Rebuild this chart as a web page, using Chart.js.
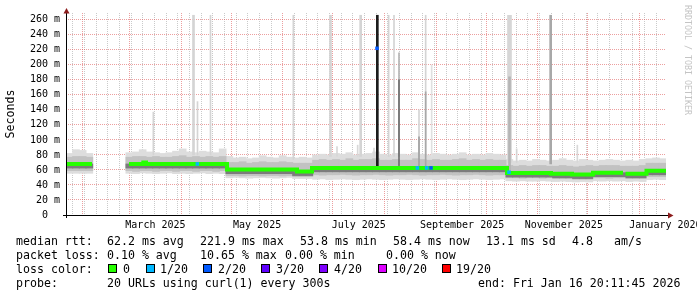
<!DOCTYPE html>
<html>
<head>
<meta charset="utf-8">
<title>median rtt - last 360 days</title>
<script src="https://cdn.jsdelivr.net/npm/chart.js@4.4.1/dist/chart.umd.min.js"></script>
<style>
  html, body { margin: 0; padding: 0; background: #fff; }
  #wrap { position: relative; width: 697px; height: 297px; overflow: hidden; font-family: 'DejaVu Sans Mono', monospace; }
  #chart { position: absolute; left: 0; top: 0; }
  .lg { position: absolute; font-size: 11.6px; line-height: 14px; white-space: pre; color: #000; }
  .box { position: absolute; top: 264px; width: 7px; height: 7px; border: 1px solid #000; }
  #credit { position: absolute; left: 683px; top: 5px; writing-mode: vertical-rl; font-size: 8.3px; line-height: 9px; color: #c4c4c4; }
</style>
</head>
<body>
<div id="wrap">
  <canvas id="chart" width="697" height="297"></canvas>

  <div class="lg" style="left:16px;top:234px">median rtt:</div>
  <div class="lg" style="left:107px;top:234px">62.2 ms avg</div>
  <div class="lg" style="left:200px;top:234px">221.9 ms max</div>
  <div class="lg" style="left:300px;top:234px">53.8 ms min</div>
  <div class="lg" style="left:393px;top:234px">58.4 ms now</div>
  <div class="lg" style="left:486px;top:234px">13.1 ms sd</div>
  <div class="lg" style="left:572px;top:234px">4.8</div>
  <div class="lg" style="left:614px;top:234px">am/s</div>

  <div class="lg" style="left:16px;top:248px">packet loss:</div>
  <div class="lg" style="left:107px;top:248px">0.10 % avg</div>
  <div class="lg" style="left:200px;top:248px">10.65 % max</div>
  <div class="lg" style="left:285px;top:248px">0.00 % min</div>
  <div class="lg" style="left:386px;top:248px">0.00 % now</div>

  <div class="lg" style="left:16px;top:262px">loss color:</div>
  <div class="box" style="left:108px;background:#26ff00"></div><div class="lg" style="left:123px;top:262px">0</div>
  <div class="box" style="left:146px;background:#00b8ff"></div><div class="lg" style="left:160px;top:262px">1/20</div>
  <div class="box" style="left:203px;background:#0059ff"></div><div class="lg" style="left:218px;top:262px">2/20</div>
  <div class="box" style="left:261px;background:#5e00ff"></div><div class="lg" style="left:276px;top:262px">3/20</div>
  <div class="box" style="left:319px;background:#7e00ff"></div><div class="lg" style="left:334px;top:262px">4/20</div>
  <div class="box" style="left:378px;background:#dd00ff"></div><div class="lg" style="left:392px;top:262px">10/20</div>
  <div class="box" style="left:442px;background:#ff0000"></div><div class="lg" style="left:456px;top:262px">19/20</div>

  <div class="lg" style="left:16px;top:276px">probe:</div>
  <div class="lg" style="left:107px;top:276px">20 URLs using curl(1) every 300s</div>
  <div class="lg" style="left:478px;top:276px">end: Fri Jan 16 20:11:45 2026</div>

  <div id="credit">RRDTOOL / TOBI OETIKER</div>
</div>
<script>
// x axis = days since the window start (Tue Jan 21 2025 20:11:45), 360 days wide
const monthStarts = [10.16, 38.16, 69.16, 99.16, 130.16, 160.16, 191.16, 222.16, 252.16, 283.16, 313.16, 344.16];
const monthLabels = ['March 2025', 'May 2025', 'July 2025', 'September 2025', 'November 2025', 'January 2026'];
const monthLabelDays = [53.66, 114.66, 175.66, 237.66, 298.66, 359.66];
const yTicks = [0, 10, 20, 30, 40, 50, 60, 70, 80, 90, 100, 110, 120, 130, 140, 150, 160, 170, 180, 190, 200, 210, 220, 230, 240, 250, 260];

// smoke, one value per 4-day column (ms). null = no data
const lightHi = [
  82, 87, 86, 82,
  null, null, null, null, null,
  83, 84, 87, 84, 83, 82, 83, 85, 88, 84, 83, 85, 84, 83, 88,
  78, 76, 77, 75, 76, 79, 77, 76, 79, 77, 76, 77, 76,
  80, 81, 80, 82, 81, 83, 80, 81, 82, 84, 81, 80, 82, 81, 80, 83, 81, 80, 82, 81, 80, 81, 83, 80, 81, 80, 82, 81, 80,
  74, 72, 73, 72, 74, 73, 72, 73, 75, 73, 72, 74, 73, 72, 73, 74, 73, 72, 73, 72, 74, 75, 76, 75
];
const midHi = [
  77, 78, 78, 77,
  null, null, null, null, null,
  77, 78, 78, 77, 78, 77, 77, 78, 79, 77, 78, 77, 78, 77, 78,
  70, 70, 71, 69, 70, 71, 70, 70, 71, 70, 69, 69, 69,
  73, 74, 73, 74, 73, 75, 73, 74, 74, 75, 73, 73, 74, 73, 73, 75, 74, 73, 74, 73, 73, 74, 75, 73, 74, 73, 74, 73, 73,
  66, 65, 66, 65, 66, 66, 65, 65, 66, 65, 64, 65, 66, 65, 66, 66, 66, 65, 65, 65, 66, 69, 69, 69
];
const darkHi = [
  68, 68, 68, 68,
  null, null, null, null, null,
  68, 68, 68, 68, 68, 68, 68, 68, 68, 68, 68, 68, 68, 68, 68,
  60.5, 60.5, 60.5, 60.5, 60.5, 60.5, 60.5, 60.5, 60.5, 60.5, 58, 58, 58,
  62.7, 62.7, 62.7, 62.7, 62.7, 62.7, 62.7, 62.7, 62.7, 62.7, 62.7, 62.7, 62.7, 62.7, 62.7, 62.7, 62.7, 62.7, 62.7, 62.7, 62.7, 62.7, 62.7, 62.7, 62.7, 62.7, 62.7, 62.7, 62.7,
  56, 56, 56, 56, 56, 56, 56, 55, 55, 55, 54, 54, 54, 56.4, 56.4, 56.4, 56.4, 56.4, 55, 55, 55, 59, 59, 59
];
const darkLo = [
  62.5, 62.5, 62.5, 62.5,
  null, null, null, null, null,
  62.5, 62.5, 62.5, 62.5, 62.5, 62.5, 62.5, 62.5, 62.5, 62.5, 62.5, 62.5, 62.5, 62.5, 62.5,
  55, 55, 55, 55, 55, 55, 55, 55, 55, 55, 52.5, 52.5, 52.5,
  57.5, 57.5, 57.5, 57.5, 57.5, 57.5, 57.5, 57.5, 57.5, 57.5, 57.5, 57.5, 57.5, 57.5, 57.5, 57.5, 57.5, 57.5, 57.5, 57.5, 57.5, 57.5, 57.5, 57.5, 57.5, 57.5, 57.5, 57.5, 57.5,
  50.5, 50.5, 50.5, 50.5, 50.5, 50.5, 50.5, 49.5, 49.5, 49.5, 48.5, 48.5, 48.5, 51, 51, 51, 51, 51, 49.5, 49.5, 49.5, 53.5, 53.5, 53.5
];
const midLo = [
  59, 59, 59, 59,
  null, null, null, null, null,
  59, 58, 59, 59, 58, 59, 59, 58, 59, 59, 58, 59, 59, 58, 59,
  52.5, 52.5, 52, 52.5, 52.5, 52, 52.5, 52.5, 52, 52.5, 51, 51, 51,
  53.5, 53, 53.5, 53.5, 54, 53.5, 53, 53.5, 53.5, 54, 53.5, 53, 53.5, 53.5, 54, 53.5, 53, 53.5, 53.5, 54, 53.5, 53, 53.5, 53.5, 54, 53.5, 53, 53.5, 53.5,
  49.5, 49.5, 49, 49.5, 49.5, 49, 49.5, 48.5, 48.5, 48.5, 47.5, 47.5, 47.5, 49.5, 49.5, 49, 49.5, 49.5, 48.5, 48.5, 48.5, 51, 51, 51
];
const lightLo = [
  55.5, 55.5, 55.5, 55.5,
  null, null, null, null, null,
  55.5, 55, 56, 55.5, 55, 55.5, 56, 55, 55.5, 55, 55.5, 56, 55, 55.5, 55,
  49.5, 50, 49.5, 49, 49.5, 50, 49.5, 49, 49.5, 50, 48.5, 48.5, 48.5,
  47.5, 48, 47, 47.5, 48, 47.5, 47, 47.5, 48, 47.5, 47, 47.5, 48, 47.5, 47, 47.5, 48, 47.5, 47, 47.5, 48, 47.5, 47, 47.5, 48, 47.5, 47, 47.5, 48,
  45.5, 45, 45.5, 45, 45, 45.5, 45, 44.5, 45, 44.5, 44, 44.5, 44, 45.5, 45, 45.5, 45, 45.5, 44.5, 45, 44.5, 47, 47.5, 47
];

// median rtt, stepped (value holds until the next day listed)
const medianDays = [0, 15.6, 15.7, 37.8, 46.4, 48, 96.6, 138.6, 147.6, 264.6, 291, 303.6, 316.2, 334.2, 334.3, 335.7, 348.3, 360];
const medianVals = [68, 68, null, 68, 70, 68, 60.5, 58, 62.7, 56, 55, 54, 56.4, 56.4, null, 55, 59, 59];

// samples with packet loss, drawn in their loss colour
const lossDays = [78.8, 186.6, 210.8, 216.4, 219.0, 265.8];
const lossVals = [68, 222, 62.7, 62.7, 62.7, 57];
const lossColors = ['#00b8ff', '#0059ff', '#00b8ff', '#00b8ff', '#0059ff', '#00b8ff'];

// tall outliers above the smoke
const spikeDays = [52.4, 76.5, 78.9, 86.7, 136.4, 158.7, 162.6, 175.0, 176.8, 184.8, 186.8, 193.6, 196.8, 199.8, 199.8, 211.8, 211.8, 215.8, 215.8, 219.4, 266.1, 266.1, 270.4, 290.8, 306.8];
const spikeLo = [80, 80, 80, 80, 74, 78, 78, 78, 78, 78, 62, 78, 78, 78, 62, 78, 62, 78, 62, 78, 70, 58, 70, 68, 70];
const spikeHi = [137, 266, 151, 266, 266, 266, 91, 93, 266, 89, 266, 266, 266, 216, 180, 140, 104, 266, 164, 200, 266, 184, 88, 266, 93];
const spikeColors = ['#d4d4d4', '#d4d4d4', '#d4d4d4', '#d4d4d4', '#d4d4d4', '#d4d4d4', '#d8d8d8', '#d8d8d8', '#d4d4d4', '#d8d8d8',
  '#1c1c1c', '#d4d4d4', '#d4d4d4', '#b4b4b4', '#6e6e6e', '#d4d4d4', '#a0a0a0', '#d4d4d4', '#a8a8a8', '#e0e0e0',
  '#d6d6d6', '#b4b4b4', '#d4d4d4', '#a8a8a8', '#d8d8d8'];
const spikeWidths = [1, 2, 1, 1, 1, 2, 1, 1, 2, 1, 2, 1, 1, 1, 1, 1, 1, 1, 1, 1, 4, 2, 1, 2, 1];

const FONT = "'DejaVu Sans Mono', monospace";
const GRID_MAJOR = 'rgba(220, 80, 80, 0.55)';
const GRID_MINOR = 'rgba(150, 150, 150, 0.5)';

document.addEventListener('DOMContentLoaded', () => {
    drawChart();
});

function band(lo, hi) {
    const smokeDays = hi.map((_, i) => i * 4 + 2);
    const pts = [];
    smokeDays.forEach((d, i) => {
        if (hi[i] == null) return;
        pts.push({ x: d, y: [lo[i], hi[i]] });
    });
    return pts;
}

function spikeSets(order) {
    const widths = [...new Set(spikeWidths)];
    return widths.map(w => {
        const idx = spikeDays.map((_, i) => i).filter(i => spikeWidths[i] === w);
        return {
            type: 'bar',
            data: idx.map(i => ({ x: spikeDays[i], y: [spikeLo[i], spikeHi[i]] })),
            backgroundColor: idx.map(i => spikeColors[i]),
            borderWidth: 0,
            barThickness: w,
            grouped: false,
            order: order
        };
    });
}

function drawChart() {
    // x ticks: weekly (Sundays) minor grid, monthly major grid, mid-month labels
    const kind = {};
    const labelText = {};
    for (let k = 0; k < 51; k++) kind[(4.16 + 7 * k).toFixed(2)] = 'week';
    monthStarts.forEach(d => { kind[d.toFixed(2)] = 'month'; });
    monthLabelDays.forEach((d, i) => {
        kind[d.toFixed(2)] = 'label';
        labelText[d.toFixed(2)] = monthLabels[i];
    });
    const xTickValues = Object.keys(kind).map(Number).sort((a, b) => a - b);

    const xGridColor = (ctx) => {
        if (!ctx.tick) return 'transparent';
        const k = kind[ctx.tick.value.toFixed(2)];
        if (k === 'month') return GRID_MAJOR;
        if (k === 'week') return GRID_MINOR;
        return 'transparent';
    };

    const axisArrows = {
        id: 'axisArrows',
        afterDraw(chart) {
            const { ctx, chartArea: a } = chart;
            ctx.save();
            ctx.strokeStyle = '#000';
            ctx.lineWidth = 1;
            ctx.beginPath();
            ctx.moveTo(a.left + 0.5, a.bottom + 3);
            ctx.lineTo(a.left + 0.5, a.top - 2);
            ctx.moveTo(a.left - 3, a.bottom + 0.5);
            ctx.lineTo(a.right + 3, a.bottom + 0.5);
            ctx.stroke();
            ctx.fillStyle = '#8c1c1c';
            ctx.beginPath();
            ctx.moveTo(a.left - 2.5, a.top + 0.5);
            ctx.lineTo(a.left + 3.5, a.top + 0.5);
            ctx.lineTo(a.left + 0.5, a.top - 5);
            ctx.closePath();
            ctx.fill();
            ctx.beginPath();
            ctx.moveTo(a.right + 2, a.bottom - 2.5);
            ctx.lineTo(a.right + 2, a.bottom + 3.5);
            ctx.lineTo(a.right + 7.5, a.bottom + 0.5);
            ctx.closePath();
            ctx.fill();
            ctx.restore();
        }
    };

    const datasets = [
        { type: 'bar', data: band(lightLo, lightHi), backgroundColor: '#dddddd', borderWidth: 0, barThickness: 7, grouped: false, order: 7 },
        { type: 'bar', data: band(midLo, midHi), backgroundColor: '#c2c2c2', borderWidth: 0, barThickness: 7, grouped: false, order: 6 },
        ...spikeSets(5),
        { type: 'bar', data: band(darkLo, darkHi), backgroundColor: '#7c7c7c', borderWidth: 0, barThickness: 7, grouped: false, order: 4 },
        {
            type: 'line',
            data: medianDays.map((d, i) => ({ x: d, y: medianVals[i] })),
            borderColor: '#26ff00',
            borderWidth: 4,
            stepped: 'before',
            pointRadius: 0,
            spanGaps: false,
            order: 2
        },
        {
            type: 'line',
            data: lossDays.map((d, i) => ({ x: d, y: lossVals[i] })),
            showLine: false,
            pointStyle: 'rect',
            pointRadius: 2.5,
            pointBorderWidth: 0,
            pointBackgroundColor: lossColors,
            order: 1
        }
    ];

    const ctx = document.getElementById('chart').getContext('2d');
    new Chart(ctx, {
        type: 'line',
        data: { datasets: datasets },
        options: {
            responsive: false,
            animation: false,
            events: [],
            layout: { padding: { left: 0, top: 13, right: 31, bottom: 62 } },
            scales: {
                x: {
                    type: 'linear',
                    min: 0,
                    max: 360,
                    bounds: 'data',
                    offset: false,
                    z: 1,
                    afterBuildTicks: s => { s.ticks = xTickValues.map(v => ({ value: v })); },
                    afterFit: s => { s.height = 20; s.paddingLeft = 0; s.paddingRight = 0; },
                    grid: { color: xGridColor, drawTicks: false, lineWidth: 1, offset: false },
                    border: { display: false, dash: [1, 1] },
                    ticks: {
                        autoSkip: false,
                        maxRotation: 0,
                        minRotation: 0,
                        padding: 4,
                        color: '#000',
                        font: { family: FONT, size: 10 },
                        callback: v => labelText[v.toFixed(2)] || ''
                    }
                },
                y: {
                    type: 'linear',
                    min: 0,
                    max: 269,
                    bounds: 'data',
                    z: 1,
                    afterBuildTicks: s => { s.ticks = yTicks.map(v => ({ value: v })); },
                    afterFit: s => { s.width = 66; s.paddingTop = 0; s.paddingBottom = 0; },
                    grid: {
                        color: c => (c.tick && c.tick.value % 20 === 0 ? GRID_MAJOR : GRID_MINOR),
                        drawTicks: false,
                        lineWidth: 1
                    },
                    border: { display: false, dash: [1, 1] },
                    ticks: {
                        padding: 6,
                        color: '#000',
                        font: { family: FONT, size: 10 },
                        callback: v => (v % 20 !== 0 ? '' : (v === 0 ? '0  ' : v + ' m'))
                    },
                    title: {
                        display: true,
                        text: 'Seconds',
                        color: '#000',
                        font: { family: FONT, size: 11.6 },
                        padding: { top: 4, bottom: 0 }
                    }
                }
            },
            plugins: {
                legend: { display: false },
                tooltip: { enabled: false }
            }
        },
        plugins: [axisArrows]
    });
}
</script>
</body>
</html>
